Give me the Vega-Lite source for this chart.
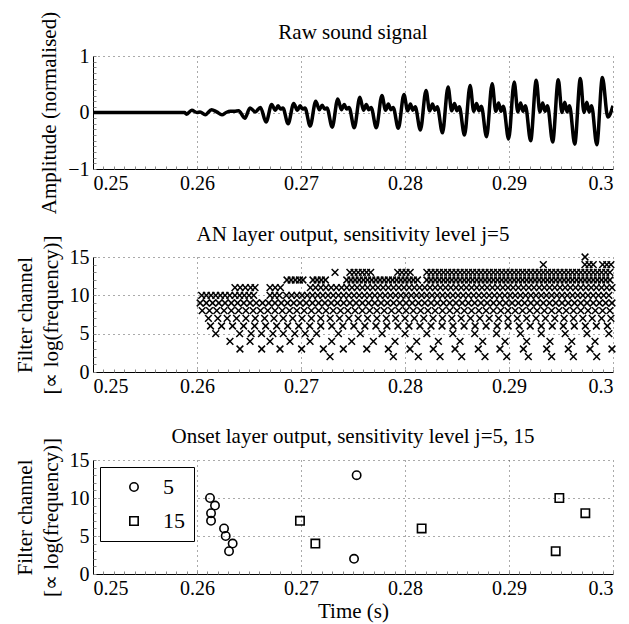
{
"$schema":"https://vega.github.io/schema/vega-lite/v6.json",
"background":"white",
"padding":{"left":14,"top":11,"right":0,"bottom":5},
"bounds":"flush",
"spacing":88,
"config":{
 "view":{"stroke":null},
 "font":"Liberation Serif",
 "style":{"guide-label":{"font":"Liberation Serif","fontSize":20,"fill":"black"},"guide-title":{"font":"Liberation Serif","fontSize":21,"fontWeight":"normal","fill":"black"}},
 "title":{"font":"Liberation Serif","fontSize":21,"fontWeight":"normal","color":"black","frame":"group"},
 "axis":{"labelFont":"Liberation Serif","labelFontSize":20,"labelColor":"black","titleFont":"Liberation Serif","titleFontSize":21,"titleFontWeight":"normal","titleColor":"black","domainColor":"black","domainWidth":1,"ticks":false,"grid":true,"gridColor":"#555","gridDash":[1,4],"gridWidth":1,"labelPadding":4,"titlePadding":8,"titleLineHeight":26}
},
"resolve":{"scale":{"x":"independent","y":"independent","shape":"independent"},"legend":{"shape":"independent"}},
"vconcat":[
{
 "width":520,"height":113,
 "title":{"text":"Raw sound signal","frame":"group","offset":-32},
 "data":{"values":[
{"t":0.25,"a":0},{"t":0.2588,"a":0},{"t":0.259,"a":-0.03},{"t":0.2595,"a":0.04},{"t":0.26,"a":0.0},{"t":0.2603,"a":0.01},{"t":0.2608,"a":-0.04},{"t":0.2614,"a":0.05},{"t":0.2619,"a":0.01},{"t":0.2624,"a":-0.04},{"t":0.2628,"a":0.0},{"t":0.2632,"a":0.02},{"t":0.2636,"a":0.02},{"t":0.264,"a":0.03},{"t":0.2646,"a":-0.1},{"t":0.2651,"a":0.08},{"t":0.2656,"a":0.01},{"t":0.2661,"a":0.09},{"t":0.26664,"a":-0.17},
{"t":0.26718,"a":0.14},{"t":0.26753,"a":0.04},{"t":0.2678,"a":0.12},{"t":0.26803,"a":0.06},{"t":0.26826,"a":0.08},{"t":0.26876,"a":-0.2},
{"t":0.2693,"a":0.16},{"t":0.26965,"a":0.04},{"t":0.26992,"a":0.12},{"t":0.27015,"a":0.06},{"t":0.27038,"a":0.08},{"t":0.27088,"a":-0.24},
{"t":0.27142,"a":0.2},{"t":0.27177,"a":0.05},{"t":0.27204,"a":0.13},{"t":0.27227,"a":0.06},{"t":0.2725,"a":0.08},{"t":0.273,"a":-0.26},
{"t":0.27354,"a":0.24},{"t":0.27389,"a":0.05},{"t":0.27416,"a":0.14},{"t":0.27439,"a":0.06},{"t":0.27462,"a":0.09},{"t":0.27512,"a":-0.27},
{"t":0.27566,"a":0.27},{"t":0.27601,"a":0.04},{"t":0.27628,"a":0.14},{"t":0.27651,"a":0.05},{"t":0.27674,"a":0.09},{"t":0.27724,"a":-0.27},
{"t":0.27778,"a":0.3},{"t":0.27813,"a":0.04},{"t":0.2784,"a":0.15},{"t":0.27863,"a":0.05},{"t":0.27886,"a":0.09},{"t":0.27936,"a":-0.28},
{"t":0.2799,"a":0.32},{"t":0.28025,"a":0.03},{"t":0.28052,"a":0.15},{"t":0.28075,"a":0.04},{"t":0.28098,"a":0.1},{"t":0.28148,"a":-0.31},
{"t":0.28202,"a":0.39},{"t":0.28237,"a":0.03},{"t":0.28264,"a":0.15},{"t":0.28287,"a":0.04},{"t":0.2831,"a":0.1},{"t":0.2836,"a":-0.36},
{"t":0.28414,"a":0.45},{"t":0.28449,"a":0.03},{"t":0.28476,"a":0.16},{"t":0.28499,"a":0.03},{"t":0.28522,"a":0.1},{"t":0.28572,"a":-0.4},
{"t":0.28626,"a":0.48},{"t":0.28661,"a":0.02},{"t":0.28688,"a":0.16},{"t":0.28711,"a":0.03},{"t":0.28734,"a":0.11},{"t":0.28784,"a":-0.43},
{"t":0.28838,"a":0.51},{"t":0.28873,"a":0.02},{"t":0.289,"a":0.17},{"t":0.28923,"a":0.02},{"t":0.28946,"a":0.11},{"t":0.28996,"a":-0.47},
{"t":0.2905,"a":0.54},{"t":0.29085,"a":0.01},{"t":0.29112,"a":0.17},{"t":0.29135,"a":0.02},{"t":0.29158,"a":0.12},{"t":0.29208,"a":-0.5},
{"t":0.29262,"a":0.57},{"t":0.29297,"a":0.01},{"t":0.29324,"a":0.17},{"t":0.29347,"a":0.02},{"t":0.2937,"a":0.12},{"t":0.2942,"a":-0.52},
{"t":0.29474,"a":0.58},{"t":0.29509,"a":0.0},{"t":0.29536,"a":0.18},{"t":0.29559,"a":0.01},{"t":0.29582,"a":0.12},{"t":0.29632,"a":-0.56},
{"t":0.29686,"a":0.6},{"t":0.29721,"a":0.0},{"t":0.29748,"a":0.18},{"t":0.29771,"a":0.01},{"t":0.29794,"a":0.12},{"t":0.29844,"a":-0.57},
{"t":0.29898,"a":0.62},{"t":0.2995,"a":-0.08},{"t":0.3,"a":0.12}
 ]},
 "resolve":{"axis":{"x":"independent","y":"independent"}},
 "layer":[
 {
 "mark":{"type":"line","color":"black","strokeWidth":3.5,"interpolate":"monotone","clip":true},
 "encoding":{
  "x":{"field":"t","type":"quantitative","scale":{"domain":[0.25,0.3],"nice":false,"zero":false},"axis":{"title":null,"values":[0.25,0.26,0.27,0.28,0.29,0.3],"format":"~g","labelFont":"Liberation Serif","labelFontSize":20}},
  "y":{"field":"a","type":"quantitative","scale":{"domain":[-1,1],"nice":false},"axis":{"title":"Amplitude (normalised)","values":[-1,0,1],"format":"~g","labelFont":"Liberation Serif","labelFontSize":20,"titleFont":"Liberation Serif","titleFontSize":21}}
 }
 },
 {
 "mark":{"type":"line","opacity":0},
 "encoding":{
  "x":{"field":"t","type":"quantitative","axis":{"orient":"bottom","title":null,"labels":false,"grid":false,"domain":false,"ticks":true,"tickSize":-3,"tickColor":"#888","values":[0.25,0.251,0.252,0.253,0.254,0.255,0.256,0.257,0.258,0.259,0.26,0.261,0.262,0.263,0.264,0.265,0.266,0.267,0.268,0.269,0.27,0.271,0.272,0.273,0.274,0.275,0.276,0.277,0.278,0.279,0.28,0.281,0.282,0.283,0.284,0.285,0.286,0.287,0.288,0.289,0.29,0.291,0.292,0.293,0.294,0.295,0.296,0.297,0.298,0.299,0.3]}},
  "y":{"field":"a","type":"quantitative","axis":{"orient":"left","title":null,"labels":false,"grid":false,"domain":false,"ticks":true,"tickSize":-3,"tickColor":"#888","values":[-1,-0.9,-0.8,-0.7,-0.6,-0.5,-0.4,-0.3,-0.2,-0.1,0,0.1,0.2,0.3,0.4,0.5,0.6,0.7,0.8,0.9,1]}}
 }
 }
 ]
},
{
 "width":520,"height":115,
 "title":{"text":"AN layer output, sensitivity level j=5","frame":"group","offset":-10},
 "data":{"values":[
{"c":2,"t":0.27279},{"c":2,"t":0.27888},{"c":2,"t":0.28128},{"c":2,"t":0.28337},{"c":2,"t":0.28545},{"c":2,"t":0.28769},{"c":2,"t":0.28978},{"c":2,"t":0.29186},{"c":2,"t":0.2941},{"c":2,"t":0.29619},{"c":2,"t":0.29843},
{"c":3,"t":0.26413},{"c":3,"t":0.26622},{"c":3,"t":0.26798},{"c":3,"t":0.27006},{"c":3,"t":0.27215},{"c":3,"t":0.27407},{"c":3,"t":0.27632},{"c":3,"t":0.2784},{"c":3,"t":0.28048},{"c":3,"t":0.28272},{"c":3,"t":0.28481},{"c":3,"t":0.28705},{"c":3,"t":0.28913},{"c":3,"t":0.29138},{"c":3,"t":0.29362},{"c":3,"t":0.2957},{"c":3,"t":0.29779},{"c":3,"t":0.2999},
{"c":4,"t":0.26317},{"c":4,"t":0.2651},{"c":4,"t":0.26702},{"c":4,"t":0.26894},{"c":4,"t":0.27087},{"c":4,"t":0.27295},{"c":4,"t":0.27487},{"c":4,"t":0.27696},{"c":4,"t":0.27904},{"c":4,"t":0.28112},{"c":4,"t":0.28321},{"c":4,"t":0.28529},{"c":4,"t":0.28747},{"c":4,"t":0.28962},{"c":4,"t":0.2917},{"c":4,"t":0.29394},{"c":4,"t":0.29603},{"c":4,"t":0.29827},
{"c":5,"t":0.2618},{"c":5,"t":0.2641},{"c":5,"t":0.2652},{"c":5,"t":0.2662},{"c":5,"t":0.2673},{"c":5,"t":0.2683},{"c":5,"t":0.2694},{"c":5,"t":0.2704},{"c":5,"t":0.2715},{"c":5,"t":0.2736},{"c":5,"t":0.2757},{"c":5,"t":0.2778},{"c":5,"t":0.28},{"c":5,"t":0.2821},{"c":5,"t":0.2846},{"c":5,"t":0.2867},{"c":5,"t":0.2888},{"c":5,"t":0.2911},{"c":5,"t":0.2931},{"c":5,"t":0.2954},{"c":5,"t":0.2975},{"c":5,"t":0.2996},
{"c":6,"t":0.2613},{"c":6,"t":0.26236},{"c":6,"t":0.26342},{"c":6,"t":0.26448},{"c":6,"t":0.26554},{"c":6,"t":0.2666},{"c":6,"t":0.26766},{"c":6,"t":0.26872},{"c":6,"t":0.26978},{"c":6,"t":0.27084},{"c":6,"t":0.2719},{"c":6,"t":0.27296},{"c":6,"t":0.27402},{"c":6,"t":0.27508},{"c":6,"t":0.27614},{"c":6,"t":0.2772},{"c":6,"t":0.27826},{"c":6,"t":0.27932},{"c":6,"t":0.28038},{"c":6,"t":0.28144},{"c":6,"t":0.2825},{"c":6,"t":0.28356},{"c":6,"t":0.28462},{"c":6,"t":0.28568},{"c":6,"t":0.28674},{"c":6,"t":0.2878},{"c":6,"t":0.28886},{"c":6,"t":0.28992},{"c":6,"t":0.29098},{"c":6,"t":0.29204},{"c":6,"t":0.2931},{"c":6,"t":0.29416},{"c":6,"t":0.29522},{"c":6,"t":0.29628},{"c":6,"t":0.29734},{"c":6,"t":0.2984},{"c":6,"t":0.29946},
{"c":7,"t":0.2611},{"c":7,"t":0.262},{"c":7,"t":0.2629},{"c":7,"t":0.2638},{"c":7,"t":0.2647},{"c":7,"t":0.2656},{"c":7,"t":0.2665},{"c":7,"t":0.2674},{"c":7,"t":0.2683},{"c":7,"t":0.2692},{"c":7,"t":0.2701},{"c":7,"t":0.271},{"c":7,"t":0.2719},{"c":7,"t":0.2728},{"c":7,"t":0.2737},{"c":7,"t":0.2746},{"c":7,"t":0.2755},{"c":7,"t":0.2764},{"c":7,"t":0.2773},{"c":7,"t":0.2782},{"c":7,"t":0.2791},{"c":7,"t":0.28},{"c":7,"t":0.2809},{"c":7,"t":0.2818},{"c":7,"t":0.2827},{"c":7,"t":0.2836},{"c":7,"t":0.2845},{"c":7,"t":0.2854},{"c":7,"t":0.2863},{"c":7,"t":0.2872},{"c":7,"t":0.2881},{"c":7,"t":0.289},{"c":7,"t":0.2899},{"c":7,"t":0.2908},{"c":7,"t":0.2917},{"c":7,"t":0.2926},{"c":7,"t":0.2935},{"c":7,"t":0.2944},{"c":7,"t":0.2953},{"c":7,"t":0.2962},{"c":7,"t":0.2971},{"c":7,"t":0.298},{"c":7,"t":0.2989},{"c":7,"t":0.2998},
{"c":8,"t":0.2605},{"c":8,"t":0.2612},{"c":8,"t":0.2619},{"c":8,"t":0.2626},{"c":8,"t":0.2633},{"c":8,"t":0.264},{"c":8,"t":0.2647},{"c":8,"t":0.2654},{"c":8,"t":0.2661},{"c":8,"t":0.2668},{"c":8,"t":0.2675},{"c":8,"t":0.2682},{"c":8,"t":0.2689},{"c":8,"t":0.2696},{"c":8,"t":0.2703},{"c":8,"t":0.271},{"c":8,"t":0.2717},{"c":8,"t":0.2724},{"c":8,"t":0.2731},{"c":8,"t":0.2738},{"c":8,"t":0.2745},{"c":8,"t":0.2752},{"c":8,"t":0.2759},{"c":8,"t":0.2766},{"c":8,"t":0.2773},{"c":8,"t":0.278},{"c":8,"t":0.2787},{"c":8,"t":0.2794},{"c":8,"t":0.2801},{"c":8,"t":0.2808},{"c":8,"t":0.2815},{"c":8,"t":0.2822},{"c":8,"t":0.2829},{"c":8,"t":0.2836},{"c":8,"t":0.2843},{"c":8,"t":0.285},{"c":8,"t":0.2857},{"c":8,"t":0.2864},{"c":8,"t":0.2871},{"c":8,"t":0.2878},{"c":8,"t":0.2885},{"c":8,"t":0.2892},{"c":8,"t":0.2899},{"c":8,"t":0.2906},{"c":8,"t":0.2913},{"c":8,"t":0.292},{"c":8,"t":0.2927},{"c":8,"t":0.2934},{"c":8,"t":0.2941},{"c":8,"t":0.2948},{"c":8,"t":0.2955},{"c":8,"t":0.2962},{"c":8,"t":0.2969},{"c":8,"t":0.2976},{"c":8,"t":0.2983},{"c":8,"t":0.299},{"c":8,"t":0.2997},
{"c":9,"t":0.2603},{"c":9,"t":0.2609},{"c":9,"t":0.2615},{"c":9,"t":0.2621},{"c":9,"t":0.2627},{"c":9,"t":0.2633},{"c":9,"t":0.2639},{"c":9,"t":0.2645},{"c":9,"t":0.2651},{"c":9,"t":0.2657},{"c":9,"t":0.2663},{"c":9,"t":0.2669},{"c":9,"t":0.2675},{"c":9,"t":0.2681},{"c":9,"t":0.2687},{"c":9,"t":0.2693},{"c":9,"t":0.2699},{"c":9,"t":0.2705},{"c":9,"t":0.2711},{"c":9,"t":0.2717},{"c":9,"t":0.2723},{"c":9,"t":0.2729},{"c":9,"t":0.2735},{"c":9,"t":0.2741},{"c":9,"t":0.2747},{"c":9,"t":0.2753},{"c":9,"t":0.2759},{"c":9,"t":0.2765},{"c":9,"t":0.2771},{"c":9,"t":0.2777},{"c":9,"t":0.2783},{"c":9,"t":0.2789},{"c":9,"t":0.2795},{"c":9,"t":0.2801},{"c":9,"t":0.2807},{"c":9,"t":0.2813},{"c":9,"t":0.2819},{"c":9,"t":0.2825},{"c":9,"t":0.2831},{"c":9,"t":0.2837},{"c":9,"t":0.2843},{"c":9,"t":0.2849},{"c":9,"t":0.2855},{"c":9,"t":0.2861},{"c":9,"t":0.2867},{"c":9,"t":0.2873},{"c":9,"t":0.2879},{"c":9,"t":0.2885},{"c":9,"t":0.2891},{"c":9,"t":0.2897},{"c":9,"t":0.2903},{"c":9,"t":0.2909},{"c":9,"t":0.2915},{"c":9,"t":0.2921},{"c":9,"t":0.2927},{"c":9,"t":0.2933},{"c":9,"t":0.2939},{"c":9,"t":0.2945},{"c":9,"t":0.2951},{"c":9,"t":0.2957},{"c":9,"t":0.2963},{"c":9,"t":0.2969},{"c":9,"t":0.2975},{"c":9,"t":0.2981},{"c":9,"t":0.2987},{"c":9,"t":0.2993},{"c":9,"t":0.2999},
{"c":10,"t":0.26045},{"c":10,"t":0.2609},{"c":10,"t":0.26135},{"c":10,"t":0.2618},{"c":10,"t":0.26225},{"c":10,"t":0.2627},{"c":10,"t":0.26315},{"c":10,"t":0.26365},{"c":10,"t":0.2641},{"c":10,"t":0.26455},{"c":10,"t":0.265},{"c":10,"t":0.26545},{"c":10,"t":0.26702},{"c":10,"t":0.26747},{"c":10,"t":0.26792},
{"c":10,"t":0.2686},{"c":10,"t":0.2691},{"c":10,"t":0.2696},{"c":10,"t":0.2701},{"c":10,"t":0.2706},{"c":10,"t":0.2711},{"c":10,"t":0.2716},{"c":10,"t":0.2721},{"c":10,"t":0.2726},{"c":10,"t":0.2731},{"c":10,"t":0.2736},{"c":10,"t":0.2741},{"c":10,"t":0.2746},{"c":10,"t":0.2751},{"c":10,"t":0.2756},{"c":10,"t":0.2761},{"c":10,"t":0.2766},{"c":10,"t":0.2771},{"c":10,"t":0.2776},{"c":10,"t":0.2781},{"c":10,"t":0.2786},{"c":10,"t":0.2791},{"c":10,"t":0.2796},{"c":10,"t":0.2801},{"c":10,"t":0.2806},{"c":10,"t":0.2811},{"c":10,"t":0.2816},{"c":10,"t":0.2821},{"c":10,"t":0.2826},{"c":10,"t":0.2831},{"c":10,"t":0.2836},{"c":10,"t":0.2841},{"c":10,"t":0.2846},{"c":10,"t":0.2851},{"c":10,"t":0.2856},{"c":10,"t":0.2861},{"c":10,"t":0.2866},{"c":10,"t":0.2871},{"c":10,"t":0.2876},{"c":10,"t":0.2881},{"c":10,"t":0.2886},{"c":10,"t":0.2891},{"c":10,"t":0.2896},{"c":10,"t":0.2901},{"c":10,"t":0.2906},{"c":10,"t":0.2911},{"c":10,"t":0.2916},{"c":10,"t":0.2921},{"c":10,"t":0.2926},{"c":10,"t":0.2931},{"c":10,"t":0.2936},{"c":10,"t":0.2941},{"c":10,"t":0.2946},{"c":10,"t":0.2951},{"c":10,"t":0.2956},{"c":10,"t":0.2961},{"c":10,"t":0.2966},{"c":10,"t":0.2971},{"c":10,"t":0.2976},{"c":10,"t":0.2981},{"c":10,"t":0.2986},{"c":10,"t":0.2991},{"c":10,"t":0.2996},
{"c":11,"t":0.26365},{"c":11,"t":0.26415},{"c":11,"t":0.26465},{"c":11,"t":0.26515},{"c":11,"t":0.26558},{"c":11,"t":0.26702},{"c":11,"t":0.26752},{"c":11,"t":0.26802},
{"c":11,"t":0.2709},{"c":11,"t":0.2714},{"c":11,"t":0.2719},{"c":11,"t":0.2724},{"c":11,"t":0.2729},{"c":11,"t":0.2734},{"c":11,"t":0.2739},{"c":11,"t":0.2744},{"c":11,"t":0.2749},{"c":11,"t":0.2754},{"c":11,"t":0.2759},{"c":11,"t":0.2764},{"c":11,"t":0.2769},{"c":11,"t":0.2774},{"c":11,"t":0.2779},{"c":11,"t":0.2784},{"c":11,"t":0.2789},{"c":11,"t":0.2794},{"c":11,"t":0.2799},{"c":11,"t":0.2804},{"c":11,"t":0.2809},{"c":11,"t":0.2814},{"c":11,"t":0.2819},{"c":11,"t":0.2824},{"c":11,"t":0.2829},{"c":11,"t":0.2834},{"c":11,"t":0.2839},{"c":11,"t":0.2844},{"c":11,"t":0.2849},{"c":11,"t":0.2854},{"c":11,"t":0.2859},{"c":11,"t":0.2864},{"c":11,"t":0.2869},{"c":11,"t":0.2874},{"c":11,"t":0.2879},{"c":11,"t":0.2884},{"c":11,"t":0.2889},{"c":11,"t":0.2894},{"c":11,"t":0.2899},{"c":11,"t":0.2904},{"c":11,"t":0.2909},{"c":11,"t":0.2914},{"c":11,"t":0.2919},{"c":11,"t":0.2924},{"c":11,"t":0.2929},{"c":11,"t":0.2934},{"c":11,"t":0.2939},{"c":11,"t":0.2944},{"c":11,"t":0.2949},{"c":11,"t":0.2954},{"c":11,"t":0.2959},{"c":11,"t":0.2964},{"c":11,"t":0.2969},{"c":11,"t":0.2974},{"c":11,"t":0.2979},{"c":11,"t":0.2984},{"c":11,"t":0.2989},{"c":11,"t":0.2994},{"c":11,"t":0.2999},
{"c":12,"t":0.26865},{"c":12,"t":0.26905},{"c":12,"t":0.26945},{"c":12,"t":0.26985},{"c":12,"t":0.27019},{"c":12,"t":0.27115},{"c":12,"t":0.27155},{"c":12,"t":0.27195},{"c":12,"t":0.27235},
{"c":12,"t":0.2744},{"c":12,"t":0.2748},{"c":12,"t":0.2752},{"c":12,"t":0.2756},{"c":12,"t":0.276},{"c":12,"t":0.2764},{"c":12,"t":0.2768},{"c":12,"t":0.2772},{"c":12,"t":0.2776},{"c":12,"t":0.278},{"c":12,"t":0.2784},{"c":12,"t":0.2788},{"c":12,"t":0.2792},{"c":12,"t":0.2796},{"c":12,"t":0.28},{"c":12,"t":0.2804},{"c":12,"t":0.2808},{"c":12,"t":0.2812},
{"c":12,"t":0.2821},{"c":12,"t":0.2825},{"c":12,"t":0.2829},{"c":12,"t":0.2833},{"c":12,"t":0.2837},{"c":12,"t":0.2841},{"c":12,"t":0.2845},{"c":12,"t":0.2849},{"c":12,"t":0.2853},{"c":12,"t":0.2857},{"c":12,"t":0.2861},{"c":12,"t":0.2865},{"c":12,"t":0.2869},{"c":12,"t":0.2873},{"c":12,"t":0.2877},{"c":12,"t":0.2881},{"c":12,"t":0.2885},{"c":12,"t":0.2889},{"c":12,"t":0.2893},{"c":12,"t":0.2897},{"c":12,"t":0.2901},{"c":12,"t":0.2905},{"c":12,"t":0.2909},{"c":12,"t":0.2913},{"c":12,"t":0.2917},{"c":12,"t":0.2921},{"c":12,"t":0.2925},{"c":12,"t":0.2929},{"c":12,"t":0.2933},{"c":12,"t":0.2937},{"c":12,"t":0.2941},{"c":12,"t":0.2945},{"c":12,"t":0.2949},{"c":12,"t":0.2953},{"c":12,"t":0.2957},{"c":12,"t":0.2961},{"c":12,"t":0.2965},{"c":12,"t":0.2969},{"c":12,"t":0.2973},{"c":12,"t":0.2977},{"c":12,"t":0.2981},{"c":12,"t":0.2985},{"c":12,"t":0.2989},{"c":12,"t":0.2993},{"c":12,"t":0.2997},
{"c":13,"t":0.27327},{"c":13,"t":0.2747},{"c":13,"t":0.2751},{"c":13,"t":0.2755},{"c":13,"t":0.2759},{"c":13,"t":0.2763},{"c":13,"t":0.2767},{"c":13,"t":0.2793},{"c":13,"t":0.2797},{"c":13,"t":0.2801},{"c":13,"t":0.2805},
{"c":13,"t":0.2821},{"c":13,"t":0.2825},{"c":13,"t":0.2829},{"c":13,"t":0.2833},{"c":13,"t":0.2837},{"c":13,"t":0.2841},{"c":13,"t":0.2845},{"c":13,"t":0.2849},{"c":13,"t":0.2853},{"c":13,"t":0.2857},{"c":13,"t":0.2861},{"c":13,"t":0.2865},{"c":13,"t":0.2869},{"c":13,"t":0.2873},{"c":13,"t":0.2877},{"c":13,"t":0.2881},{"c":13,"t":0.2885},{"c":13,"t":0.2889},{"c":13,"t":0.2893},{"c":13,"t":0.2897},{"c":13,"t":0.2901},{"c":13,"t":0.2905},{"c":13,"t":0.2909},{"c":13,"t":0.2913},{"c":13,"t":0.2917},{"c":13,"t":0.2921},{"c":13,"t":0.2925},{"c":13,"t":0.2929},{"c":13,"t":0.2933},{"c":13,"t":0.2937},{"c":13,"t":0.2941},{"c":13,"t":0.2945},{"c":13,"t":0.2949},{"c":13,"t":0.2953},{"c":13,"t":0.2957},{"c":13,"t":0.2961},{"c":13,"t":0.2965},{"c":13,"t":0.2969},{"c":13,"t":0.2973},{"c":13,"t":0.2977},{"c":13,"t":0.2981},{"c":13,"t":0.2985},{"c":13,"t":0.2989},{"c":13,"t":0.2993},{"c":13,"t":0.2997},
{"c":14,"t":0.2933},{"c":14,"t":0.2973},{"c":14,"t":0.2977},{"c":14,"t":0.2981},{"c":14,"t":0.299},{"c":14,"t":0.2994},{"c":14,"t":0.2998},
{"c":15,"t":0.29731}
 ]},
 "resolve":{"axis":{"x":"independent","y":"independent"}},
 "layer":[
 {
 "mark":{"type":"point","shape":"M-1,-1L1,1M1,-1L-1,1","filled":false,"stroke":"black","strokeWidth":1.5,"size":45,"opacity":1},
 "encoding":{
  "x":{"field":"t","type":"quantitative","scale":{"domain":[0.25,0.3],"nice":false,"zero":false},"axis":{"title":null,"values":[0.25,0.26,0.27,0.28,0.29,0.3],"format":"~g","labelFont":"Liberation Serif","labelFontSize":20}},
  "y":{"field":"c","type":"quantitative","scale":{"domain":[0,15],"nice":false},"axis":{"title":["Filter channel","[∝ log(frequency)]"],"values":[0,5,10,15],"format":"~g","labelFont":"Liberation Serif","labelFontSize":20,"titleFont":"Liberation Serif","titleFontSize":21}}
 }
 },
 {
 "mark":{"type":"point","opacity":0},
 "encoding":{
  "x":{"field":"t","type":"quantitative","axis":{"orient":"bottom","title":null,"labels":false,"grid":false,"domain":false,"ticks":true,"tickSize":-3,"tickColor":"#888","values":[0.25,0.251,0.252,0.253,0.254,0.255,0.256,0.257,0.258,0.259,0.26,0.261,0.262,0.263,0.264,0.265,0.266,0.267,0.268,0.269,0.27,0.271,0.272,0.273,0.274,0.275,0.276,0.277,0.278,0.279,0.28,0.281,0.282,0.283,0.284,0.285,0.286,0.287,0.288,0.289,0.29,0.291,0.292,0.293,0.294,0.295,0.296,0.297,0.298,0.299,0.3]}},
  "y":{"field":"c","type":"quantitative","axis":{"orient":"left","title":null,"labels":false,"grid":false,"domain":false,"ticks":true,"tickSize":-3,"tickColor":"#888","values":[0,1,2,3,4,5,6,7,8,9,10,11,12,13,14,15]}}
 }
 }
 ]
},
{
 "width":520,"height":114,
 "title":{"text":"Onset layer output, sensitivity level j=5, 15","frame":"group","offset":-10},
 "data":{"values":[
{"j":"5","t":0.26125,"c":10},{"j":"5","t":0.26173,"c":9},{"j":"5","t":0.26135,"c":8},{"j":"5","t":0.26135,"c":7},{"j":"5","t":0.2626,"c":6},{"j":"5","t":0.26276,"c":5},{"j":"5","t":0.26343,"c":4},{"j":"5","t":0.26308,"c":3},{"j":"5","t":0.27535,"c":13},{"j":"5","t":0.2751,"c":2},
{"j":"15","t":0.2699,"c":7},{"j":"15","t":0.27138,"c":4},{"j":"15","t":0.2816,"c":6},{"j":"15","t":0.29484,"c":10},{"j":"15","t":0.29734,"c":8},{"j":"15","t":0.29449,"c":3}
 ]},
 "resolve":{"axis":{"x":"independent","y":"independent"}},
 "layer":[
 {
 "mark":{"type":"point","filled":false,"stroke":"black","strokeWidth":1.6,"size":70,"opacity":1},
 "encoding":{
  "x":{"field":"t","type":"quantitative","scale":{"domain":[0.25,0.3],"nice":false,"zero":false},"axis":{"title":"Time (s)","values":[0.25,0.26,0.27,0.28,0.29,0.3],"format":"~g","labelFont":"Liberation Serif","labelFontSize":20,"titleFont":"Liberation Serif","titleFontSize":21,"titlePadding":2}},
  "y":{"field":"c","type":"quantitative","scale":{"domain":[0,15],"nice":false},"axis":{"title":["Filter channel","[∝ log(frequency)]"],"values":[0,5,10,15],"format":"~g","labelFont":"Liberation Serif","labelFontSize":20,"titleFont":"Liberation Serif","titleFontSize":21}},
  "shape":{"field":"j","type":"nominal","scale":{"domain":["5","15"],"range":["circle","square"]},"legend":{"title":null,"orient":"none","legendX":7,"legendY":7,"strokeColor":"black","fillColor":"white","padding":9,"rowPadding":12,"labelFont":"Liberation Serif","labelFontSize":22,"labelColor":"black","symbolSize":70,"symbolStrokeWidth":1.6,"symbolStrokeColor":"black","symbolFillColor":"white","symbolOffset":14,"labelOffset":18,"cornerRadius":0}}
 }
 },
 {
 "mark":{"type":"point","opacity":0},
 "encoding":{
  "x":{"field":"t","type":"quantitative","axis":{"orient":"bottom","title":null,"labels":false,"grid":false,"domain":false,"ticks":true,"tickSize":-3,"tickColor":"#888","values":[0.25,0.251,0.252,0.253,0.254,0.255,0.256,0.257,0.258,0.259,0.26,0.261,0.262,0.263,0.264,0.265,0.266,0.267,0.268,0.269,0.27,0.271,0.272,0.273,0.274,0.275,0.276,0.277,0.278,0.279,0.28,0.281,0.282,0.283,0.284,0.285,0.286,0.287,0.288,0.289,0.29,0.291,0.292,0.293,0.294,0.295,0.296,0.297,0.298,0.299,0.3]}},
  "y":{"field":"c","type":"quantitative","axis":{"orient":"left","title":null,"labels":false,"grid":false,"domain":false,"ticks":true,"tickSize":-3,"tickColor":"#888","values":[0,1,2,3,4,5,6,7,8,9,10,11,12,13,14,15]}}
 }
 }
 ]
}
]
}
